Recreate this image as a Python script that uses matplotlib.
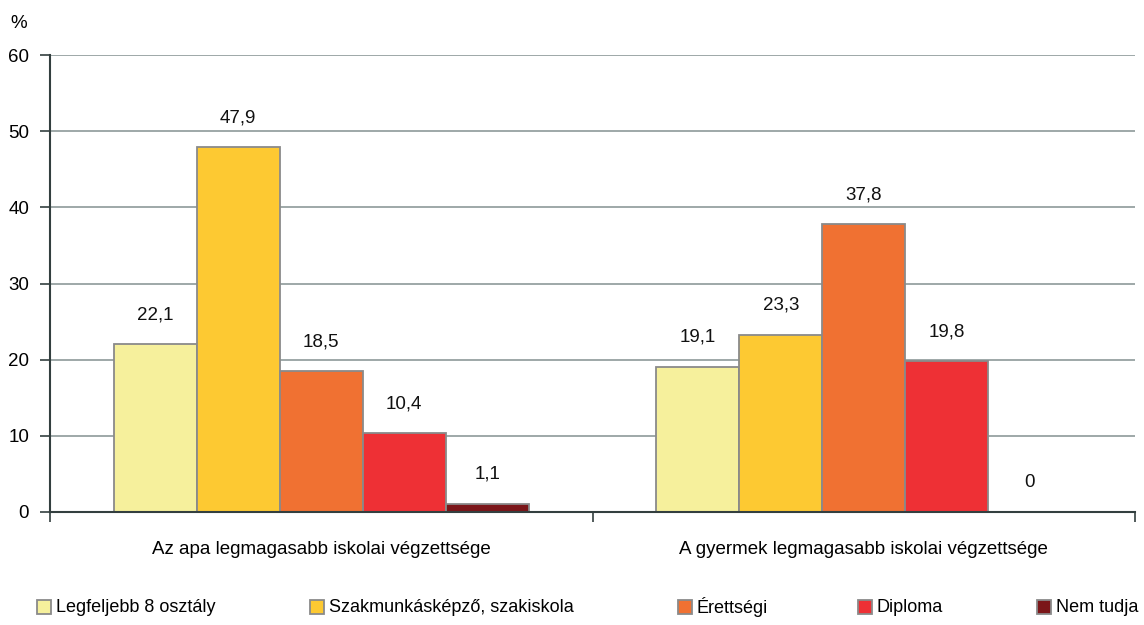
import numpy as np
import matplotlib
matplotlib.use('Agg')
from matplotlib import pyplot as plt
from matplotlib.patches import Rectangle

plt.rcParams['font.family'] = ['Liberation Sans', 'DejaVu Sans']

groups = ['Az apa legmagasabb iskolai végzettsége',
          'A gyermek legmagasabb iskolai végzettsége']
series = ['Legfeljebb 8 osztály', 'Szakmunkásképző, szakiskola',
          'Érettségi', 'Diploma', 'Nem tudja']
values = [
    [22.1, 19.1],
    [47.9, 23.3],
    [18.5, 37.8],
    [10.4, 19.8],
    [1.1, 0],
]
labels = [
    ['22,1', '19,1'],
    ['47,9', '23,3'],
    ['18,5', '37,8'],
    ['10,4', '19,8'],
    ['1,1', '0'],
]
colors = ['#F6F09C', '#FDC932', '#F07132', '#EE3035', '#7B1619']
yticks = [0, 10, 20, 30, 40, 50, 60]

FS = 13.5

fig = plt.figure(figsize=(11.44, 6.25), dpi=100)
ax = fig.add_axes([50 / 1144, 1 - 512 / 625, 1085 / 1144, 457 / 625])

x = np.arange(len(groups))
width = 0.153
for ii in range(len(series)):
    pos = x + (ii - 2) * width
    ax.bar(pos, values[ii], width, color=colors[ii], edgecolor='#8a8a8a',
           linewidth=1.3, zorder=2)
    for jj in range(len(groups)):
        ax.annotate(labels[ii][jj], (pos[jj], values[ii][jj]), xytext=(0, 21),
                    textcoords='offset points', ha='center', va='center',
                    fontsize=FS, color='#111111')

ax.set_xlim(-0.5, 1.5)
ax.set_ylim(0, 60)
ax.set_yticks(yticks)
ax.set_yticklabels([str(t) for t in yticks], fontsize=FS)
ax.yaxis.grid(True, color='#8d9999', linewidth=1.2, zorder=0)
ax.set_axisbelow(True)

ax.set_xticks([-0.5, 0.5, 1.5])
ax.set_xticklabels([])
ax.set_xticks(x, minor=True)
ax.set_xticklabels(groups, minor=True, fontsize=FS)
ax.tick_params(axis='x', which='minor', length=0, pad=21)
ax.tick_params(axis='x', which='major', length=7, width=1.2, color='#333f3f')
ax.tick_params(axis='y', length=7, width=1.2, color='#333f3f', pad=8)

for side in ['top', 'right']:
    ax.spines[side].set_visible(False)
for side in ['left', 'bottom']:
    ax.spines[side].set_color('#333f3f')
    ax.spines[side].set_linewidth(1.5)

fig.text(10 / 1144, 1 - 23 / 625, '%', fontsize=FS, va='center', ha='left')

# legend along the bottom
leg_x = [37, 310, 678, 858, 1037]
leg_y = 607
for ii in range(len(series)):
    fig.patches.append(Rectangle((leg_x[ii] / 1144, 1 - (leg_y + 7) / 625),
                                 14 / 1144, 14 / 625, transform=fig.transFigure,
                                 facecolor=colors[ii], edgecolor='#8a8a8a',
                                 linewidth=1.3))
    fig.text((leg_x[ii] + 19) / 1144, 1 - leg_y / 625, series[ii],
             fontsize=13, va='center', ha='left')

fig.savefig('out.png', dpi=100)
